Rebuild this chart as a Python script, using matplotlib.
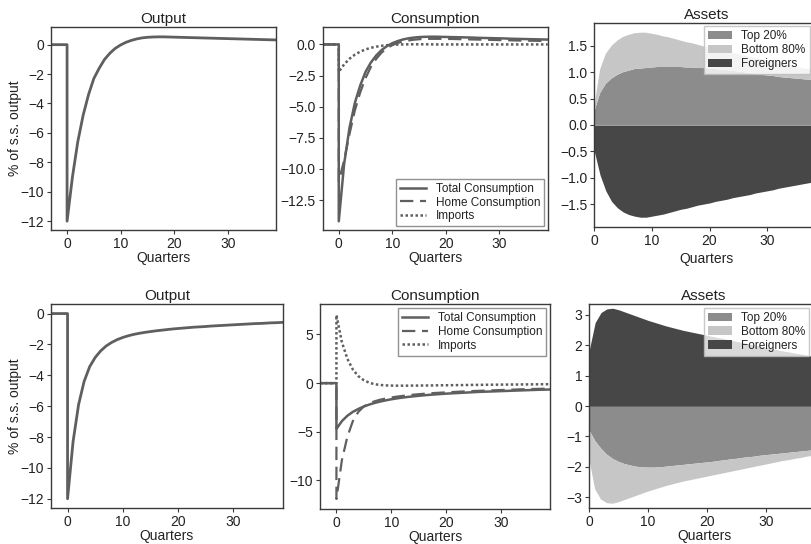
import numpy as np
import matplotlib.pyplot as plt

plt.rcParams['font.family'] = ['Liberation Sans', 'DejaVu Sans']

#----------------------------------------------------------------------------------
# Data (quarters after the shock)

quarters = list(range(40))
pre_quarters = [-3, 0]          # steady state before the shock
pre_values = [0.0, 0.0]

x_ticks = [0, 10, 20, 30]

# Top row
output_a = [-12.0, -9.0, -6.6, -4.8, -3.4, -2.3, -1.6, -1.0, -0.58, -0.25,
            -0.02, 0.16, 0.29, 0.39, 0.46, 0.5, 0.52, 0.53, 0.53, 0.52,
            0.51, 0.5, 0.49, 0.48, 0.47, 0.46, 0.45, 0.44, 0.43, 0.42,
            0.41, 0.4, 0.39, 0.38, 0.37, 0.36, 0.35, 0.34, 0.33, 0.32]

total_cons_a = [-14.2, -9.6, -6.7, -4.7, -3.3, -2.2, -1.45, -0.88, -0.45, -0.13,
                0.1, 0.27, 0.4, 0.49, 0.55, 0.59, 0.61, 0.62, 0.62, 0.61,
                0.6, 0.59, 0.58, 0.57, 0.56, 0.55, 0.53, 0.52, 0.51, 0.5,
                0.49, 0.48, 0.46, 0.45, 0.44, 0.43, 0.42, 0.41, 0.4, 0.39]
home_cons_a = [-11.0, -9.3, -7.2, -5.3, -3.85, -2.7, -1.8, -1.15, -0.65, -0.3,
               -0.05, 0.12, 0.24, 0.32, 0.38, 0.42, 0.44, 0.45, 0.45, 0.45,
               0.44, 0.44, 0.43, 0.42, 0.41, 0.4, 0.39, 0.38, 0.37, 0.36,
               0.35, 0.34, 0.33, 0.32, 0.31, 0.3, 0.3, 0.29, 0.28, 0.27]
imports_a = [-2.2, -1.6, -1.15, -0.82, -0.58, -0.4, -0.27, -0.18, -0.11, -0.06,
             -0.03, -0.01, 0.0, 0.01, 0.01, 0.01, 0.01, 0.01, 0.0, 0.0,
             0.0, 0.0, 0.0, 0.0, 0.0, 0.0, 0.0, 0.0, 0.0, 0.0,
             0.0, 0.0, 0.0, 0.0, 0.0, 0.0, 0.0, 0.0, 0.0, 0.0]

top20_a = [0.25, 0.6, 0.78, 0.88, 0.95, 1.0, 1.03, 1.06, 1.07, 1.08,
           1.09, 1.1, 1.1, 1.1, 1.1, 1.1, 1.09, 1.09, 1.08, 1.08,
           1.07, 1.06, 1.05, 1.04, 1.03, 1.01, 1.0, 0.98, 0.96, 0.95,
           0.94, 0.93, 0.91, 0.9, 0.89, 0.88, 0.87, 0.86, 0.85, 0.84]
bottom80_a = [0.1, 0.45, 0.57, 0.62, 0.65, 0.67, 0.68, 0.68, 0.68, 0.67,
              0.64, 0.61, 0.58, 0.56, 0.53, 0.5, 0.48, 0.46, 0.44, 0.41,
              0.4, 0.38, 0.37, 0.35, 0.34, 0.33, 0.32, 0.31, 0.31, 0.3,
              0.28, 0.27, 0.26, 0.25, 0.24, 0.22, 0.21, 0.2, 0.19, 0.18]
foreign_a = [-0.5, -0.95, -1.25, -1.45, -1.57, -1.65, -1.7, -1.73, -1.75, -1.75,
             -1.73, -1.71, -1.69, -1.66, -1.63, -1.6, -1.58, -1.55, -1.52, -1.5,
             -1.48, -1.45, -1.43, -1.41, -1.38, -1.36, -1.34, -1.32, -1.29, -1.27,
             -1.25, -1.23, -1.2, -1.18, -1.16, -1.14, -1.12, -1.1, -1.08, -1.06]

# Bottom row
output_b = [-12.0, -8.3, -5.9, -4.4, -3.45, -2.85, -2.42, -2.1, -1.87, -1.69,
            -1.55, -1.44, -1.35, -1.28, -1.22, -1.17, -1.12, -1.08, -1.04, -1.0,
            -0.97, -0.94, -0.91, -0.88, -0.86, -0.84, -0.81, -0.79, -0.77, -0.75,
            -0.73, -0.71, -0.69, -0.67, -0.65, -0.64, -0.62, -0.6, -0.59, -0.57]

total_cons_b = [-4.7, -3.9, -3.35, -2.95, -2.65, -2.4, -2.2, -2.03, -1.89, -1.77,
                -1.66, -1.57, -1.49, -1.42, -1.36, -1.3, -1.25, -1.2, -1.16, -1.12,
                -1.08, -1.05, -1.02, -0.99, -0.96, -0.93, -0.9, -0.88, -0.86, -0.84,
                -0.82, -0.8, -0.78, -0.76, -0.74, -0.72, -0.7, -0.68, -0.67, -0.65]
home_cons_b = [-11.9, -7.9, -5.5, -3.9, -2.95, -2.4, -2.08, -1.86, -1.7, -1.58,
               -1.48, -1.39, -1.32, -1.25, -1.19, -1.14, -1.09, -1.05, -1.01, -0.98,
               -0.95, -0.92, -0.89, -0.86, -0.84, -0.81, -0.79, -0.77, -0.75, -0.73,
               -0.71, -0.69, -0.67, -0.65, -0.63, -0.62, -0.6, -0.59, -0.57, -0.56]
imports_b = [7.0, 4.2, 2.5, 1.4, 0.72, 0.3, 0.04, -0.11, -0.19, -0.23,
             -0.25, -0.26, -0.26, -0.26, -0.25, -0.25, -0.24, -0.24, -0.23, -0.22,
             -0.22, -0.21, -0.2, -0.2, -0.19, -0.18, -0.18, -0.17, -0.16, -0.16,
             -0.15, -0.15, -0.14, -0.14, -0.13, -0.13, -0.12, -0.12, -0.11, -0.11]

top20_b = [-0.8, -1.15, -1.4, -1.6, -1.74, -1.84, -1.91, -1.96, -2.0, -2.02,
           -2.03, -2.03, -2.02, -2.0, -1.98, -1.96, -1.94, -1.92, -1.9, -1.88,
           -1.86, -1.84, -1.81, -1.79, -1.76, -1.74, -1.71, -1.69, -1.67, -1.64,
           -1.62, -1.6, -1.58, -1.56, -1.54, -1.52, -1.5, -1.48, -1.46, -1.44]
bottom80_b = [-0.95, -1.6, -1.68, -1.6, -1.48, -1.33, -1.19, -1.07, -0.96, -0.87,
              -0.79, -0.73, -0.68, -0.64, -0.61, -0.58, -0.55, -0.53, -0.51, -0.49,
              -0.47, -0.45, -0.44, -0.42, -0.41, -0.39, -0.38, -0.36, -0.34, -0.33,
              -0.31, -0.29, -0.27, -0.25, -0.24, -0.22, -0.21, -0.19, -0.18, -0.17]
foreign_b = [1.85, 2.75, 3.08, 3.2, 3.22, 3.17, 3.1, 3.03, 2.96, 2.89,
             2.82, 2.76, 2.7, 2.64, 2.59, 2.54, 2.49, 2.45, 2.41, 2.37,
             2.33, 2.29, 2.25, 2.21, 2.17, 2.13, 2.09, 2.05, 2.01, 1.97,
             1.93, 1.89, 1.85, 1.81, 1.78, 1.74, 1.71, 1.67, 1.64, 1.61]

#----------------------------------------------------------------------------------
# Styles

line_color = '#5f5f5f'
spine_color = '#3a3a3a'
text_color = '#222222'
asset_colors = ['#8c8c8c', '#c6c6c6', '#474747']  # top 20%, bottom 80%, foreigners

W, H = 811, 544


def place_axes(fig, left, right, top, bottom):
    """Add axes from pixel edges (origin top-left)."""
    return fig.add_axes([left / W, 1 - bottom / H, (right - left) / W, (bottom - top) / H])


def style_axes(ax, xlabelpad=0):
    for spine in ax.spines.values():
        spine.set_color(spine_color)
        spine.set_linewidth(1.0)
    ax.tick_params(axis='both', direction='out', length=3, width=0.8, pad=2,
                   colors=spine_color, labelcolor=text_color, labelsize=10)
    ax.set_xticks(x_ticks)
    ax.set_xlabel('Quarters', fontsize=10, color=text_color, labelpad=xlabelpad)


def with_pre(values):
    return np.array(pre_values + values)


t_full = np.array(pre_quarters + quarters)
t_q = np.array(quarters)

fig = plt.figure(figsize=(W / 100, H / 100), dpi=100)
fig.patch.set_facecolor('white')


#----------------------------------------------------------------------------------
# Output panels

def output_panel(ax, values, ylim, yticks):
    ax.plot(t_full, with_pre(values), color=line_color, linewidth=2)
    ax.set_xlim(-3, 39)
    ax.set_ylim(*ylim)
    ax.set_yticks(yticks)
    ax.set_title('Output', fontsize=11, color=text_color, pad=3)
    ax.set_ylabel('% of s.s. output', fontsize=10, color=text_color, labelpad=-1)
    style_axes(ax)


ax = place_axes(fig, 51, 276, 27, 230)
output_panel(ax, output_a, (-12.6, 1.2), [0, -2, -4, -6, -8, -10, -12])

ax = place_axes(fig, 51, 282.7, 304.3, 508)
output_panel(ax, output_b, (-12.6, 0.6), [0, -2, -4, -6, -8, -10, -12])


#----------------------------------------------------------------------------------
# Consumption panels

def consumption_panel(ax, total, home, imports, ylim, yticks, yfmt, legend_loc):
    ax.plot(t_full, with_pre(total), color=line_color, linewidth=1.8, label='Total Consumption')
    ax.plot(t_full, with_pre(home), color=line_color, linewidth=1.6, linestyle=(0, (6, 3)),
            label='Home Consumption')
    ax.plot(t_full, with_pre(imports), color=line_color, linewidth=1.8, linestyle=(0, (1, 1)),
            label='Imports')
    ax.set_xlim(-3, 39)
    ax.set_ylim(*ylim)
    ax.set_yticks(yticks)
    ax.set_yticklabels([yfmt.format(v).replace('-', '\u2212') for v in yticks])
    ax.set_title('Consumption', fontsize=11, color=text_color, pad=3)
    style_axes(ax)
    leg = ax.legend(loc=legend_loc, fontsize=8.5, labelspacing=0.15, handlelength=2.2,
                    borderpad=0.35, frameon=True, fancybox=False, borderaxespad=0.3)
    leg.get_frame().set_edgecolor('#777777')
    for txt in leg.get_texts():
        txt.set_color(text_color)


ax = place_axes(fig, 322.7, 547.7, 27, 230)
consumption_panel(ax, total_cons_a, home_cons_a, imports_a, (-14.9, 1.4),
                  [0.0, -2.5, -5.0, -7.5, -10.0, -12.5], '{:.1f}', 'lower right')

ax = place_axes(fig, 320, 550, 304.3, 508.7)
consumption_panel(ax, total_cons_b, home_cons_b, imports_b, (-12.9, 8.1),
                  [5, 0, -5, -10], '{:d}', 'upper right')


#----------------------------------------------------------------------------------
# Assets panels (stacked areas)

def assets_panel(ax, top20, bottom80, foreign, ylim, yticks, xlabelpad):
    ax.stackplot(t_q, top20, bottom80, colors=asset_colors[:2], labels=['Top 20%', 'Bottom 80%'],
                 linewidth=0)
    ax.fill_between(t_q, foreign, 0, color=asset_colors[2], linewidth=0, label='Foreigners')
    ax.set_xlim(0, 39)
    ax.set_ylim(*ylim)
    ax.set_yticks(yticks)
    ax.set_title('Assets', fontsize=11, color=text_color, pad=3)
    style_axes(ax, xlabelpad)
    leg = ax.legend(loc='upper right', fontsize=8.5, labelspacing=0.15, handlelength=2.0,
                    borderpad=0.35, frameon=True, fancybox=False, borderaxespad=0.3,
                    bbox_to_anchor=(0.975, 1.0))
    leg.get_frame().set_edgecolor('#bbbbbb')
    for txt in leg.get_texts():
        txt.set_color(text_color)


ax = place_axes(fig, 594.3, 819, 22.7, 226.7)
assets_panel(ax, top20_a, bottom80_a, foreign_a, (-1.93, 1.94),
             [-1.5, -1.0, -0.5, 0.0, 0.5, 1.0, 1.5], 3)

ax = place_axes(fig, 589.3, 818.7, 304.3, 507.7)
assets_panel(ax, top20_b, bottom80_b, foreign_b, (-3.35, 3.35), [-3, -2, -1, 0, 1, 2, 3], 0)

plt.savefig('out.png', dpi=100)
